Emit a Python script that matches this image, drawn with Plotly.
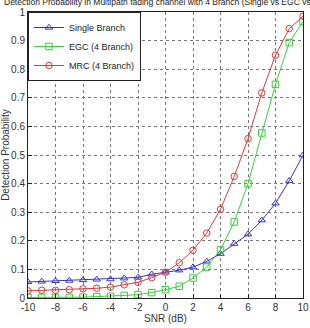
import plotly.graph_objects as go

snr = list(range(-10, 11))
single = [0.056, 0.058, 0.060, 0.061, 0.063, 0.065, 0.066, 0.069, 0.072, 0.083, 0.090,
          0.097, 0.108, 0.128, 0.155, 0.190, 0.223, 0.272, 0.331, 0.410, 0.499]
egc = [0.002, 0.002, 0.002, 0.002, 0.003, 0.005, 0.006, 0.009, 0.012, 0.019, 0.029,
       0.041, 0.070, 0.108, 0.169, 0.266, 0.400, 0.577, 0.747, 0.893, 0.967]
mrc = [0.025, 0.027, 0.027, 0.029, 0.032, 0.034, 0.038, 0.046, 0.055, 0.071, 0.090,
       0.123, 0.167, 0.227, 0.310, 0.425, 0.557, 0.717, 0.849, 0.942, 0.985]
names = ["Single Branch", "EGC (4 Branch)", "MRC (4 Branch)"]
colors = ["#3434c4", "#3ccc3c", "#d23c3c"]
symbols = ["triangle-up-open", "square-open", "circle-open"]
xticks = list(range(-10, 11, 2))
yticks = [round(0.1 * i, 1) for i in range(11)]
ylabels = ["0"] + [f"{v:g}" for v in yticks[1:-1]] + ["1"]

FONT = "Liberation Sans Narrow, Arial Narrow, Liberation Sans, Arial"

fig = go.Figure()
for ys, n, c, s in zip([single, egc, mrc], names, colors, symbols):
    fig.add_trace(go.Scatter(
        x=snr, y=ys, name=n, mode="lines+markers",
        line=dict(color=c, width=1),
        marker=dict(symbol=s, size=6.5, color=c, line=dict(color=c, width=1)),
    ))

axis_common = dict(
    showline=True, linecolor="#222", linewidth=1, mirror=True,
    showgrid=True, gridcolor="#777", griddash="dot", gridwidth=1,
    ticks="inside", ticklen=4, tickcolor="#222", zeroline=False,
    tickfont=dict(family=FONT, size=10, color="#333"), automargin=False,
)

fig.update_layout(
    width=310, height=328,
    margin=dict(l=28, r=7, t=12, b=30),
    paper_bgcolor="white", plot_bgcolor="white",
    font=dict(family=FONT, size=10, color="#333"),
    xaxis=dict(range=[-10, 10], tickvals=xticks, ticktext=[str(v) for v in xticks],
               title=dict(text="SNR (dB)", font=dict(family=FONT, size=10), standoff=2),
               **axis_common),
    yaxis=dict(range=[0, 1], tickvals=yticks, ticktext=ylabels,
               title=dict(text="Detection Probability", font=dict(family=FONT, size=10), standoff=2),
               **axis_common),
    legend=dict(x=0.0, y=1.0, xanchor="left", yanchor="top",
                bgcolor="white", bordercolor="#222", borderwidth=1,
                font=dict(family=FONT, size=9, color="#222"),
                itemwidth=30, tracegroupgap=0),
    showlegend=True,
    annotations=[dict(
        text="Detection Probability in Multipath fading channel with 4 Branch (Single vs EGC vs MRC)",
        xref="paper", yref="paper", x=-0.095, y=1.0, xanchor="left", yanchor="bottom",
        yshift=3, showarrow=False, font=dict(family=FONT, size=8.5, color="#222"))],
)

fig.write_html("out.html")
